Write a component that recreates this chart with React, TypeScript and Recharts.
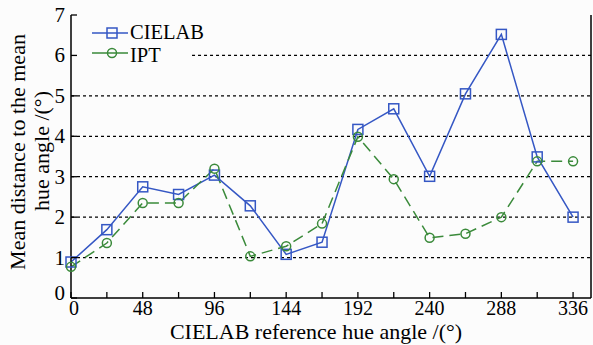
import React from "react";
import {
  LineChart,
  Line,
  XAxis,
  YAxis,
  ReferenceLine,
} from "recharts";

const hueAngles = [0, 24, 48, 72, 96, 120, 144, 168, 192, 216, 240, 264, 288, 312, 336];
const cielab = [0.89, 1.69, 2.75, 2.56, 3.04, 2.28, 1.08, 1.38, 4.17, 4.68, 3.01, 5.05, 6.52, 3.49, 2.0];
const ipt = [0.77, 1.36, 2.35, 2.35, 3.2, 1.03, 1.28, 1.84, 3.99, 2.94, 1.49, 1.59, 2.0, 3.38, 3.38];
const xTicks = [0, 24, 48, 72, 96, 120, 144, 168, 192, 216, 240, 264, 288, 312, 336];
const yTicks = [0, 1, 2, 3, 4, 5, 6, 7];
const gridLevels = [1, 2, 3, 4, 5];

const data = hueAngles.map((h, i) => ({ h, cielab: cielab[i], ipt: ipt[i] }));

const BLUE = "#3557c4";
const GREEN = "#3a8a3a";
const FONT = "Liberation Serif";
const txt = { fontFamily: FONT, fontSize: 21, fill: "#000" };
const M = 4;

const BottomTick = (props: any) => {
  const { x, y, payload } = props;
  const ay = y - M;
  return (
    <g>
      <line x1={x} y1={ay} x2={x} y2={ay - 6} stroke="#000" strokeWidth={1.3} />
      {payload.value % 48 === 0 && (
        <text x={payload.value === 0 ? x + 3 : x} y={ay + 17} textAnchor="middle" style={{ ...txt, fontSize: 20 }}>
          {payload.value}
        </text>
      )}
    </g>
  );
};

const TopTick = (props: any) => {
  const { x, y } = props;
  const ay = y + M;
  return <line x1={x} y1={ay} x2={x} y2={ay + 6} stroke="#000" strokeWidth={1.3} />;
};

const LeftTick = (props: any) => {
  const { x, y, payload } = props;
  const ax = x + M;
  return (
    <g>
      <line x1={ax} y1={y} x2={ax + 6} y2={y} stroke="#000" strokeWidth={1.3} />
      <text x={ax - 6} y={payload.value === 0 ? y + 2 : y + 7} textAnchor="end" style={txt}>
        {payload.value}
      </text>
    </g>
  );
};

const RightTick = (props: any) => {
  const { x, y } = props;
  const ax = x - M;
  return <line x1={ax} y1={y} x2={ax - 6} y2={y} stroke="#000" strokeWidth={1.3} />;
};

const SquareDot = (props: any) => {
  const { cx, cy } = props;
  if (cx == null || cy == null) return null;
  return <rect x={cx - 5} y={cy - 5} width={10} height={10} fill="none" stroke={BLUE} strokeWidth={1.5} />;
};

const CircleDot = (props: any) => {
  const { cx, cy } = props;
  if (cx == null || cy == null) return null;
  return <circle cx={cx} cy={cy} r={4.5} fill="none" stroke={GREEN} strokeWidth={1.5} />;
};

export default function App() {
  return (
    <div style={{ position: "absolute", left: 0, top: 0, width: 593, height: 345, background: "#fcfcfc" }}>
      <LineChart width={593} height={345} data={data} margin={{ top: 15, right: 0, left: 0, bottom: 0 }}>
        <XAxis
          dataKey="h"
          type="number"
          domain={[0, 348]}
          ticks={xTicks}
          interval={0}
          tickLine={false}
          tickSize={0}
          tickMargin={M}
          tick={<BottomTick />}
          axisLine={{ stroke: "#000", strokeWidth: 1.5 }}
          height={47}
        />
        <XAxis
          xAxisId="top"
          orientation="top"
          dataKey="h"
          type="number"
          domain={[0, 348]}
          ticks={xTicks}
          interval={0}
          tickLine={false}
          tickSize={0}
          tickMargin={M}
          tick={<TopTick />}
          axisLine={{ stroke: "#000", strokeWidth: 1.5 }}
          height={0}
        />
        <YAxis
          type="number"
          domain={[0, 7]}
          ticks={yTicks}
          interval={0}
          tickLine={false}
          tickSize={0}
          tickMargin={M}
          tick={<LeftTick />}
          axisLine={{ stroke: "#000", strokeWidth: 1.5 }}
          width={71}
        />
        <YAxis
          yAxisId="right"
          orientation="right"
          type="number"
          domain={[0, 7]}
          ticks={yTicks}
          interval={0}
          tickLine={false}
          tickSize={0}
          tickMargin={M}
          tick={<RightTick />}
          axisLine={{ stroke: "#000", strokeWidth: 1.5 }}
          width={2}
        />
        {gridLevels.map((v) => (
          <ReferenceLine key={v} y={v} stroke="#000" strokeDasharray="3 3" strokeWidth={1.3} />
        ))}
        <ReferenceLine
          segment={[
            { x: 81, y: 6 },
            { x: 348, y: 6 },
          ]}
          stroke="#000"
          strokeDasharray="3 3"
          strokeWidth={1.3}
        />
        <Line
          dataKey="cielab"
          stroke={BLUE}
          strokeWidth={1.5}
          dot={<SquareDot />}
          isAnimationActive={false}
        />
        <Line
          dataKey="ipt"
          stroke={GREEN}
          strokeWidth={1.5}
          strokeDasharray="11 6"
          dot={<CircleDot />}
          isAnimationActive={false}
        />
        {/* legend */}
        <g>
          <line x1={92} y1={33} x2={128} y2={33} stroke={BLUE} strokeWidth={1.5} />
          <rect x={107} y={28} width={10} height={10} fill="none" stroke={BLUE} strokeWidth={1.5} />
          <text x={130} y={39} style={{ ...txt, fontSize: 20.5 }}>CIELAB</text>
          <line x1={92} y1={53} x2={128} y2={53} stroke={GREEN} strokeWidth={1.5} />
          <circle cx={112} cy={53} r={4.5} fill="none" stroke={GREEN} strokeWidth={1.5} />
          <text x={130} y={62} style={{ ...txt, fontSize: 20.5 }}>IPT</text>
        </g>
        <text x={17} y={152} transform="rotate(-90 17 152)" textAnchor="middle" dominantBaseline="central" style={{ ...txt, fontSize: 22 }}>
          Mean distance to the mean
        </text>
        <text x={41} y={151} transform="rotate(-90 41 151)" textAnchor="middle" dominantBaseline="central" style={{ ...txt, fontSize: 22 }}>
          hue angle /(°)
        </text>
        <text x={316} y={339} textAnchor="middle" style={{ ...txt, fontSize: 22 }}>
          CIELAB reference hue angle /(°)
        </text>
      </LineChart>
    </div>
  );
}
